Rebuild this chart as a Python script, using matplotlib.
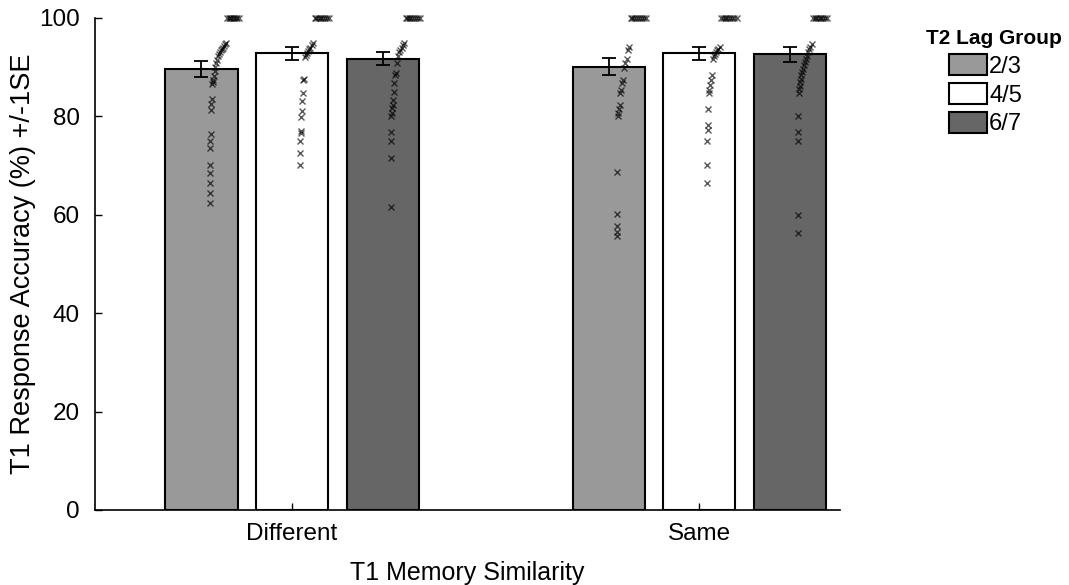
import numpy as np
import matplotlib.pyplot as plt
from matplotlib.patches import Patch

plt.rcParams['font.family'] = ['Liberation Sans', 'DejaVu Sans']

# Group means and standard errors
conditions = ["Different", "Same"]
lag_groups = ["2/3", "4/5", "6/7"]
means = np.array([[89.6, 92.8, 91.7],
                  [90.1, 92.8, 92.6]])
ses = np.array([[1.6, 1.35, 1.3],
                [1.7, 1.25, 1.45]])

# Individual participant accuracies
diff_23 = [62.4, 64.4, 66.5, 68.5, 70.1, 73.6, 75.0, 76.4, 81.3, 82.5, 83.5, 86.6, 87.0,
           87.5, 88.3, 89.2, 90.0, 90.8, 91.5, 92.2, 92.6, 93.0, 93.4, 93.7, 94.0, 94.4,
           94.7, 95.0] + [100.0] * 9
diff_45 = [70.1, 72.6, 74.9, 76.6, 77.1, 79.9, 81.0, 83.2, 84.8, 87.3, 87.6, 92.0, 92.4,
           92.8, 93.2, 93.6, 94.0, 94.5, 95.0] + [100.0] * 9
diff_67 = [61.6, 71.5, 74.9, 76.9, 80.0, 80.7, 81.7, 82.3, 83.3, 85.0, 86.7, 88.4, 88.9,
           90.8, 92.3, 93.0, 93.5, 94.0, 94.5, 94.9] + [100.0] * 9
same_23 = [55.6, 56.6, 57.7, 60.1, 68.6, 80.0, 80.6, 81.6, 82.3, 84.7, 85.4, 86.7, 87.4,
           89.8, 90.8, 91.6, 93.5, 94.2] + [100.0] * 9
same_45 = [66.5, 70.1, 75.0, 77.2, 78.3, 81.6, 84.7, 85.4, 86.4, 87.4, 88.4, 91.6, 92.2,
           92.6, 93.0, 93.4, 93.8, 94.2] + [100.0] * 9
same_67 = [56.3, 60.0, 74.9, 76.9, 80.0, 84.8, 85.5, 86.2, 87.0, 87.7, 88.4, 89.0, 89.7,
           90.4, 91.0, 91.7, 92.3, 93.0, 93.6, 94.2, 94.8] + [100.0] * 9
subjects = [[diff_23, diff_45, diff_67], [same_23, same_45, same_67]]

colors = ["#999999", "#ffffff", "#666666"]
bar_w = 0.177
step = 0.2224

fig = plt.figure(figsize=(10.69, 5.85), dpi=100)
ax = fig.add_axes([95 / 1069, 75 / 585, 745 / 1069, 492 / 585])

for i in range(len(conditions)):
    for j in range(len(lag_groups)):
        xc = (i + 1) + (j - 1) * step
        ax.bar(xc, means[i, j], width=bar_w, color=colors[j], edgecolor="k",
               linewidth=1.5, zorder=1)
        ax.errorbar(xc, means[i, j], yerr=ses[i, j], fmt="none", ecolor="k",
                    elinewidth=1.3, capsize=5, capthick=1.3, zorder=3)
        # spread points sideways by rank so ties at the ceiling fan out
        vals = np.sort(np.array(subjects[i][j]))
        n = len(vals)
        rank = np.arange(n) / (n - 1)
        xs = xc + 0.02 + 0.072 * rank ** 2
        ax.plot(xs, vals, "x", color="k", ms=4.5, mew=1.0, alpha=0.65,
                clip_on=False, zorder=4)

ax.set_xlim(0.516, 2.346)
ax.set_ylim(0, 100)
ax.set_yticks(np.arange(0, 101, 20))
ax.set_xticks([1, 2])
ax.set_xticklabels(conditions)
ax.tick_params(direction="in", labelsize=17.5, length=5, width=1)
ax.tick_params(axis="x", pad=9)
ax.tick_params(axis="y", pad=11)
ax.spines["top"].set_visible(False)
ax.spines["right"].set_visible(False)
ax.spines["left"].set_linewidth(1.2)
ax.spines["bottom"].set_linewidth(1.2)
ax.set_xlabel("T1 Memory Similarity", fontsize=18, labelpad=12)
ax.set_ylabel("T1 Response Accuracy (%) +/-1SE", fontsize=19.5, labelpad=2)

handles = [Patch(facecolor=c, edgecolor="k", linewidth=1.5) for c in colors]
fig.legend(handles, lag_groups, loc="upper left", bbox_to_anchor=(949 / 1069, 1 - 54 / 585),
           frameon=False, fontsize=17, handlelength=1.6, handleheight=1.0,
           handletextpad=0.1, labelspacing=0.22, borderpad=0, borderaxespad=0)
fig.text(1062 / 1069, 1 - 38 / 585, "T2 Lag Group", ha="right", va="center",
         fontsize=15, fontweight="bold")

fig.savefig("out.png", dpi=100)
